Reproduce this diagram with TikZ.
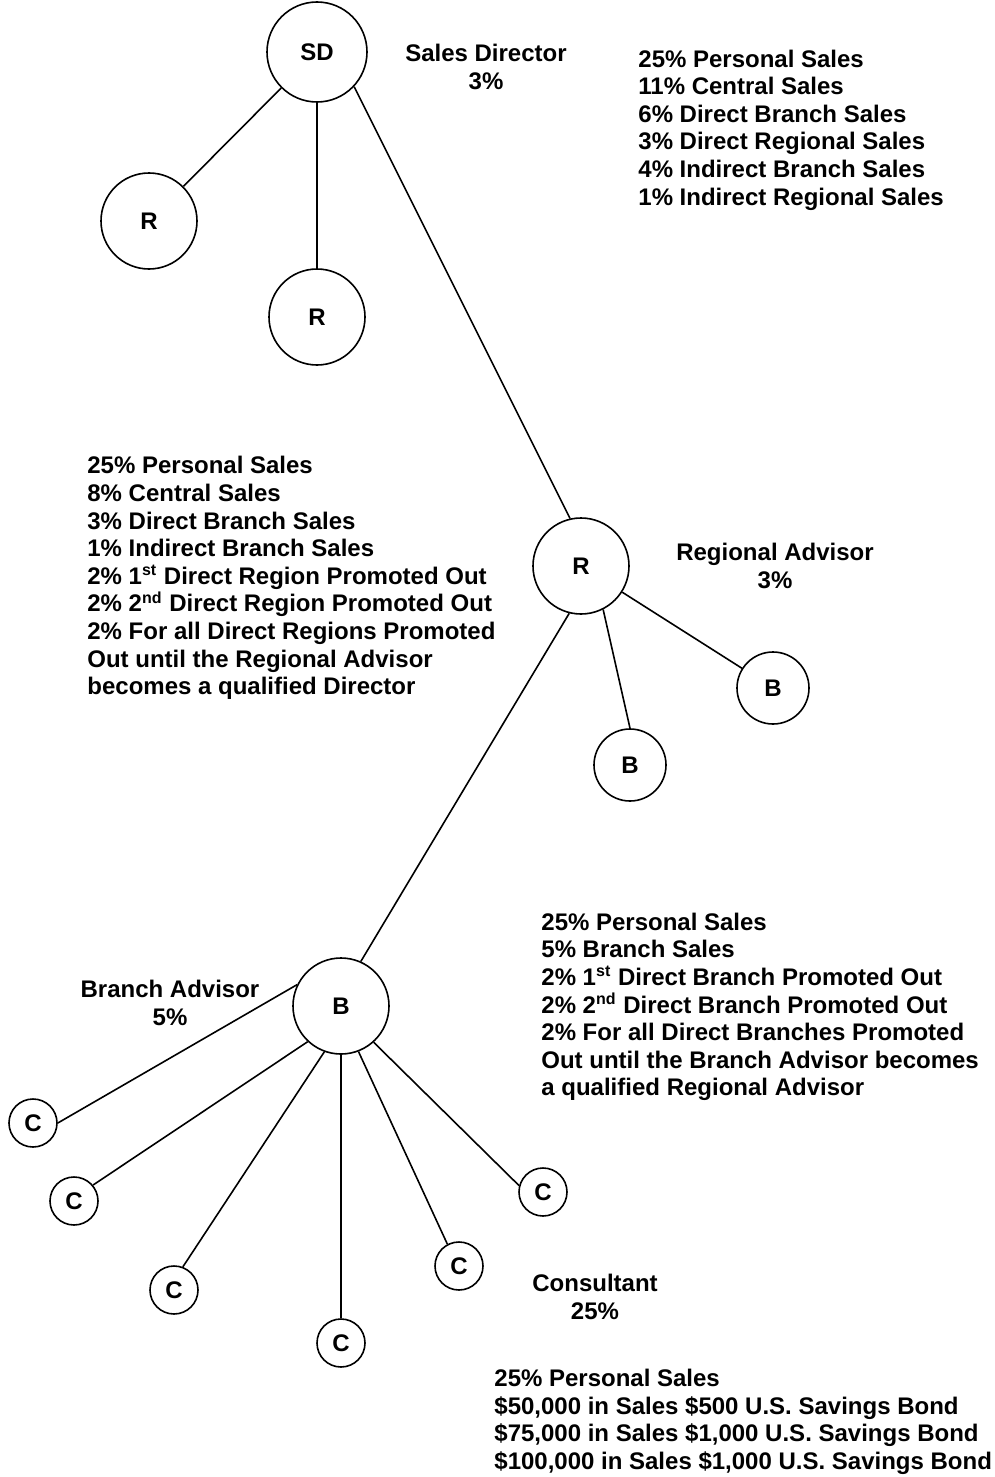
\documentclass[tikz,border=0pt]{standalone}
\usepackage{fontspec}
\setmainfont{Liberation Sans}
\usetikzlibrary{positioning}

\begin{document}
\begin{tikzpicture}[
    x=0.5pt, y=-0.5pt,
    member/.style={draw, circle, line width=0.8pt, inner sep=0pt, minimum size=#1, font=\fontsize{12}{13.8}\selectfont\bfseries},
    link/.style={line width=0.8pt},
    rolelbl/.style={font=\fontsize{12}{13.8}\selectfont\bfseries, align=center, inner sep=0pt},
    plan/.style={font=\fontsize{12}{13.8}\selectfont\bfseries, align=left, anchor=west, inner sep=0pt},
]
\useasboundingbox (0,0) rectangle (995,1477);

% Sales Director level
\node[member=50pt] (sd) at (317,52) {SD};
\node[member=48pt] (r1) at (149,221) {R};
\node[member=48pt] (r2) at (317,317) {R};
\node[rolelbl] (sdlbl) at (486,67) {Sales Director\\3\%};
\node[plan] (sdplan) at (638,130) {25\% Personal Sales\\11\% Central Sales\\6\% Direct Branch Sales\\3\% Direct Regional Sales\\4\% Indirect Branch Sales\\1\% Indirect Regional Sales};

% Regional Advisor level
\node[member=48pt] (ra) at (581,566) {R};
\node[member=36pt] (b1) at (773,688) {B};
\node[member=36pt] (b2) at (630,765) {B};
\node[rolelbl] (ralbl) at (775,566) {Regional Advisor\\3\%};
\node[plan] (raplan) at (87,578) {25\% Personal Sales\\8\% Central Sales\\3\% Direct Branch Sales\\1\% Indirect Branch Sales\\2\% 1\textsuperscript{st} Direct Region Promoted Out\\2\% 2\textsuperscript{nd} Direct Region Promoted Out\\2\% For all Direct Regions Promoted\\Out until the Regional Advisor\\becomes a qualified Director};

% Branch Advisor level
\node[member=48pt] (ba) at (341,1006) {B};
\node[rolelbl] (balbl) at (170,1003) {Branch Advisor\\5\%};
\node[plan] (baplan) at (541,1007) {25\% Personal Sales\\5\% Branch Sales\\2\% 1\textsuperscript{st} Direct Branch Promoted Out\\2\% 2\textsuperscript{nd} Direct Branch Promoted Out\\2\% For all Direct Branches Promoted\\Out until the Branch Advisor becomes\\a qualified Regional Advisor};

% Consultants
\node[member=24pt] (c1) at (33,1123) {C};
\node[member=24pt] (c2) at (74,1201) {C};
\node[member=24pt] (c3) at (174,1290) {C};
\node[member=24pt] (c4) at (341,1343) {C};
\node[member=24pt] (c5) at (459,1266) {C};
\node[member=24pt] (c6) at (543,1192) {C};
\node[rolelbl] (clbl) at (595,1297) {Consultant\\25\%};
\node[plan] (cplan) at (494,1422) {25\% Personal Sales\\\$50,000 in Sales \$500 U.S. Savings Bond\\\$75,000 in Sales \$1,000 U.S. Savings Bond\\\$100,000 in Sales \$1,000 U.S. Savings Bond};

% Links
\draw[link] (sd) -- (r1);
\draw[link] (sd) -- (r2);
\draw[link] (sd.-43) -- (ra.103);
\draw[link] (ra) -- (b1);
\draw[link] (ra.-63) -- (b2.north);
\draw[link] (ra.256) -- (ba.66);
\draw[link] (ba.154) -- (c1.east);
\draw[link] (ba.227) -- (c2.40);
\draw[link] (ba.250) -- (c3.69);
\draw[link] (ba.south) -- (c4.north);
\draw[link] (ba.-69) -- (c5.118);
\draw[link] (ba.-48) -- (c6.165);

\end{tikzpicture}
\end{document}
